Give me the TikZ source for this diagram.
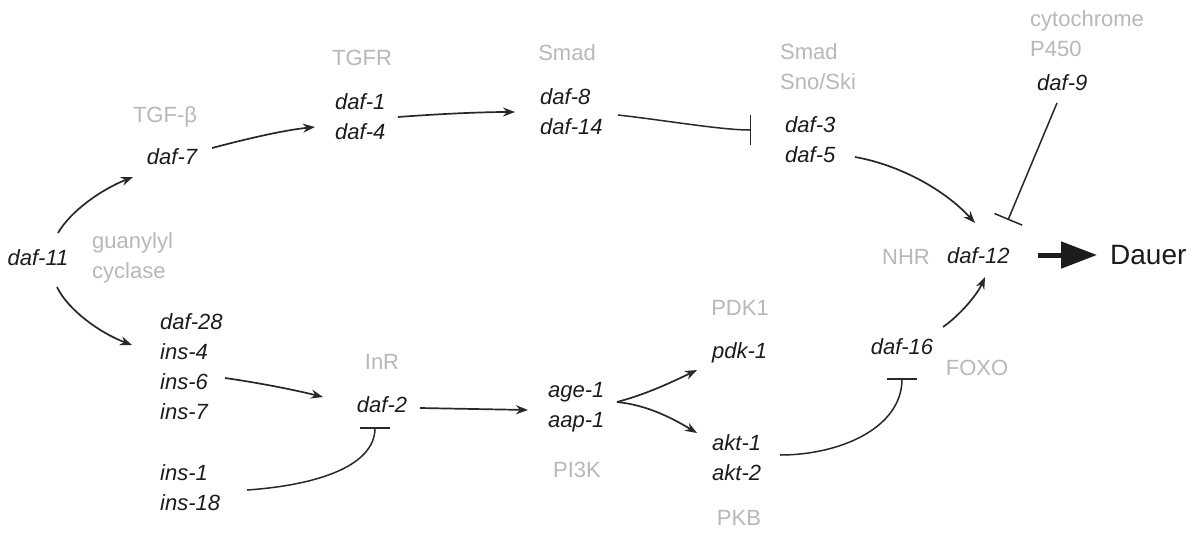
\documentclass[tikz,border=0pt]{standalone}
\usepackage{fontspec}
\setmainfont{Liberation Sans}
\usetikzlibrary{arrows.meta}
\definecolor{lbl}{RGB}{184,184,184}
\definecolor{ink}{RGB}{28,28,28}
\definecolor{wire}{RGB}{40,40,40}

\begin{document}
\begin{tikzpicture}[x=1pt,y=-1pt,
  gene/.style={inner sep=0pt, text=ink, font=\fontsize{22}{30}\selectfont\itshape, align=left},
  fam/.style={inner sep=0pt, text=lbl, font=\fontsize{22}{30}\selectfont, align=left},
  act/.style={draw=wire, line width=1.7pt, -{Stealth[length=12pt,width=9pt]}},
  inh/.style={draw=wire, line width=1.5pt, -{Bar[width=30pt]}},
  big/.style={draw=ink, line width=5pt, -{Triangle[length=36pt,width=26pt]}}]

\fill[white] (0,0) rectangle (1199,536);
\useasboundingbox (0,0) rectangle (1199,536);

% --- genes ---
\node[gene] (daf11) at (38,258) {daf-11};
\node[gene] (daf7) at (172,157) {daf-7};
\node[gene, anchor=west] (d14) at (335,117) {daf-1\\daf-4};
\node[gene, anchor=west] (d814) at (540,112) {daf-8\\daf-14};
\node[gene, anchor=west] (d35) at (785,140) {daf-3\\daf-5};
\node[gene, anchor=west] (daf9) at (1037,83) {daf-9};
\node[gene, anchor=west] (daf12) at (947,256) {daf-12};
\node[inner sep=0pt, text=ink, font=\fontsize{28}{32}\selectfont, anchor=west] (dauer) at (1110,255) {Dauer};
\node[gene, anchor=west] (lig) at (160,367) {daf-28\\ins-4\\ins-6\\ins-7};
\node[gene, anchor=west] (ins) at (160,488) {ins-1\\ins-18};
\node[gene] (daf2) at (382,405) {daf-2};
\node[gene, anchor=west] (age) at (548,407) {age-1\\aap-1};
\node[gene, anchor=west] (pdk) at (712,353) {pdk-1};
\node[gene, anchor=west] (akt) at (712,458) {akt-1\\akt-2};
\node[gene] (daf16) at (902,347) {daf-16};

% --- protein family labels ---
\node[fam] (tgfb) at (165,117) {TGF-β};
\node[fam] (tgfr) at (362,58) {TGFR};
\node[fam] (smad) at (567,53) {Smad};
\node[fam, anchor=west] (smadski) at (780,67) {Smad\\Sno/Ski};
\node[fam, anchor=west] (cyp) at (1030,34) {cytochrome\\P450};
\node[fam, anchor=west] (nhr) at (882,257) {NHR};
\node[fam, anchor=west] (gc) at (92,258) {guanylyl\\cyclase};
\node[fam] (inr) at (382,362) {InR};
\node[fam] (pi3k) at (577,470) {PI3K};
\node[fam] (pdklbl) at (740,308) {PDK1};
\node[fam] (pkb) at (739,518) {PKB};
\node[fam] (foxo) at (977,368) {FOXO};

% --- TGF-beta branch ---
\draw[act] ([shift={(20,-25)}]daf11.center) .. controls +(12,-21) and +(-33,13) .. ([shift={(-39,20)}]daf7.center);
\draw[act] ([shift={(40,-9)}]daf7.center) .. controls +(38,-10) and +(-30,3) .. ([shift={(-20,10)}]d14.west);
\draw[act] ([shift={(63,0)}]d14.west) .. controls +(40,-3) and +(-35,0) .. ([shift={(-25,0)}]d814.west);
\draw[inh] ([shift={(78,3)}]d814.west) .. controls +(45,5) and +(-30,0) .. ([shift={(-34,-10)}]d35.west);
\draw[act] ([shift={(70,17)}]d35.west) .. controls +(45,8) and +(-30,-33) .. ([shift={(28,-33)}]daf12.west);
\draw[inh] ([shift={(20,20)}]daf9.west) -- ([shift={(61,-36)}]daf12.west);

% --- insulin branch ---
\draw[act] ([shift={(19,29)}]daf11.center) .. controls +(11,23) and +(-32,-12) .. ([shift={(-28,-22)}]lig.west);
\draw[act] ([shift={(65,11)}]lig.west) .. controls +(35,5) and +(-28,-7) .. ([shift={(-59,-8)}]daf2.center);
\draw[inh] ([shift={(87,2)}]ins.west) .. controls +(73,-5) and +(0,38) .. ([shift={(-7,22)}]daf2.center);
\draw[act] ([shift={(38,3)}]daf2.center) -- ([shift={(-20,3)}]age.west);
\draw[act] ([shift={(69,-5)}]age.west) .. controls +(30,-8) and +(-25,12) .. ([shift={(-15,17)}]pdk.west);
\draw[act] ([shift={(69,-5)}]age.west) .. controls +(30,3) and +(-25,-15) .. ([shift={(-15,-25)}]akt.west);
\draw[inh] ([shift={(68,-3)}]akt.west) .. controls +(60,0) and +(0,50) .. ([shift={(0,31)}]daf16.center);
\draw[act] ([shift={(41,-20)}]daf16.center) .. controls +(17,-12) and +(-8,18) .. ([shift={(38,21)}]daf12.west);

% --- output ---
\draw[big] ([shift={(91,-1)}]daf12.west) -- ([shift={(-13,0)}]dauer.west);
\end{tikzpicture}
\end{document}
